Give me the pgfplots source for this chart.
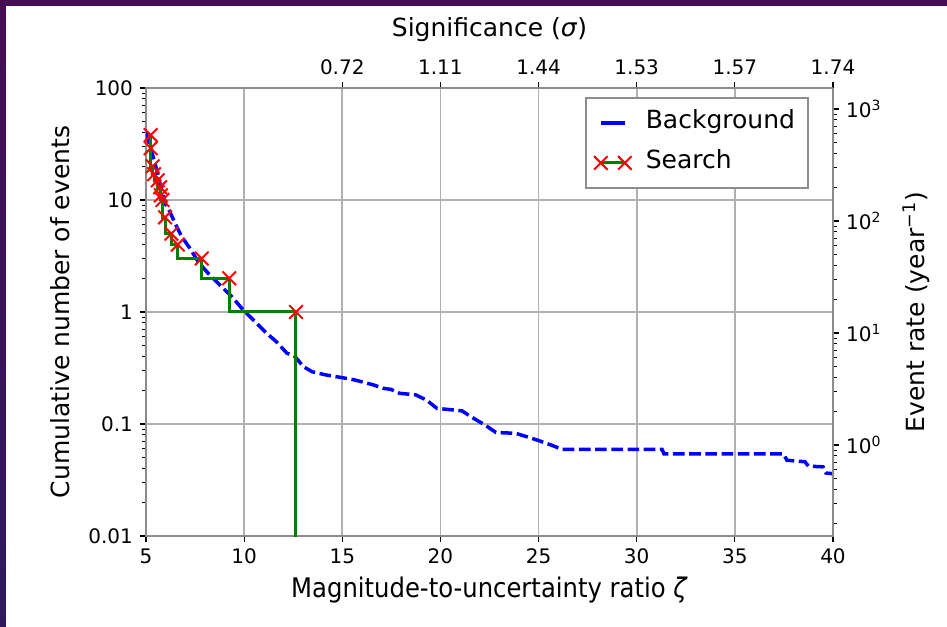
\documentclass[border=0pt]{standalone}
\usepackage{pgfplots}
\usepackage{pgfplotstable}
\pgfplotsset{compat=1.18}
\usepackage{fontspec}
\setmainfont{DejaVu Sans}
\newfontfamily\dejacond{DejaVu Sans}[FakeStretch=0.9]
\definecolor{bgpurple}{HTML}{470D53}
\definecolor{bgpurple2}{HTML}{2E1B5E}
\definecolor{mplgreen}{HTML}{008000}
\definecolor{mplblue}{HTML}{0000FF}
\definecolor{mplred}{HTML}{FF0000}
\definecolor{gridgray}{HTML}{B0B0B0}
\definecolor{spinegray}{HTML}{8C8C8C}

\pgfplotstableread{
x y
5.00 40
5.29 27
5.55 18.5
5.97 9.35
6.14 8.4
6.48 6.2
6.82 4.7
7.24 3.7
7.66 2.81
8.17 2.21
8.77 1.74
9.37 1.37
9.96 1.04
10.55 0.82
11.15 0.645
11.66 0.54
12.17 0.43
12.59 0.40
13.02 0.325
13.46 0.293
14.17 0.274
15.01 0.259
15.65 0.247
16.56 0.224
17.10 0.208
17.47 0.204
17.92 0.188
18.74 0.182
19.28 0.164
19.82 0.138
21.10 0.131
21.56 0.116
22.27 0.098
22.83 0.084
23.83 0.0826
24.36 0.0774
24.92 0.072
25.63 0.065
26.19 0.0595
31.29 0.0595
31.39 0.054
37.48 0.054
37.65 0.0475
38.57 0.046
38.75 0.042
39.49 0.0415
39.64 0.0365
40.00 0.036
}\background

\pgfplotstableread{
x y
5.24 38
5.24 29
5.34 20
5.41 17
5.60 15
5.72 13
5.76 11
5.84 10
5.97 7
6.29 5
6.62 4
7.84 3
9.24 2
12.64 1
}\searchmarks

\pgfplotstableread{
x y
5.24 38
5.24 29
5.34 20
5.41 17
5.60 15
5.72 13
5.76 11
5.84 10
5.97 7
6.29 5
6.62 4
7.84 3
9.24 2
12.64 1
12.64 0.001
}\searchline

\pgfplotsset{
  myaxis/.style={
    scale only axis, width=343.5pt, height=224pt,
    at={(0pt,0pt)}, anchor=south west,
    xmin=5, xmax=40,
    axis line style={spinegray, line width=1pt},
    tick style={black, line width=0.6pt},
    major tick length=3pt, minor tick length=1.75pt,
    tick align=outside,
    /pgf/number format/assume math mode=true,
    ticklabel style={font=\fontsize{10}{12}\selectfont},
    label style={font=\fontsize{12.5}{15}\selectfont},
  }
}

\begin{document}
\begin{tikzpicture}
\fill[white] (-73pt,-45pt) rectangle (400.5pt,268pt);
\fill[bgpurple] (-73pt,265pt) rectangle (400.5pt,268pt);
\shade[top color=bgpurple,bottom color=bgpurple2] (-73pt,-45pt) rectangle (-70pt,268pt);

% main axis
\begin{axis}[myaxis,
  ymode=log, ymin=0.01, ymax=100,
  xtick={5,10,...,40}, xticklabels={5,10,15,20,25,30,35,40},
  ytick={0.01,0.1,1,10,100}, yticklabels={0.01,0.1,1,10,100},
  minor ytick={0.02,0.03,0.04,0.05,0.06,0.07,0.08,0.09,0.2,0.3,0.4,0.5,0.6,0.7,0.8,0.9,2,3,4,5,6,7,8,9,20,30,40,50,60,70,80,90},
  xtick pos=left, ytick pos=left,
  grid=major, major grid style={gridgray, line width=0.8pt},
  xlabel={\dejacond\fontsize{13.5}{16}\selectfont Magnitude-to-uncertainty ratio \textit{ζ}},
  xlabel style={at={(axis description cs:0.5,-0.1205)}, anchor=center},
  ylabel={Cumulative number of events},
  ylabel style={at={(axis description cs:-0.125,0.5)}, anchor=center},
  legend style={at={(rel axis cs:0.965,0.98)}, anchor=north east,
    draw=gridgray!80!black, line width=1pt, fill=white,
    font=\fontsize{12.5}{15}\selectfont,
    inner xsep=4pt, inner ysep=4pt,
    nodes={inner sep=2.5pt, text height=9pt, text depth=3pt},
    row sep=3pt},
  legend cell align=left,
]
\addplot[mplblue, line width=1.75pt, dash pattern=on 5.8pt off 2.3pt, forget plot] table[x=x,y=y] {\background};
\addplot[mplgreen, line width=1.5pt, const plot mark right, forget plot] table[x=x,y=y] {\searchline};
\addplot[only marks, mark=x, mark size=4.8pt, mplred, line width=1pt, forget plot] table[x=x,y=y] {\searchmarks};

\addlegendimage{legend image code/.code={\draw[mplblue, line width=1.75pt] (0pt,0pt) -- (12pt,0pt);
  \path[draw=none, fill=none] (-2pt,0pt) -- (20pt,0pt);}}
\addlegendentry{Background}
\addlegendimage{legend image code/.code={\draw[mplgreen, line width=1.5pt] (0pt,0pt) -- (12pt,0pt);
  \draw[mplred, line width=1pt, mark=x, mark size=4.8pt, only marks] plot coordinates {(0pt,0pt) (12pt,0pt)};
  \path[draw=none, fill=none] (-2pt,0pt) -- (20pt,0pt);}}
\addlegendentry{Search}
\end{axis}

% top axis
\begin{axis}[myaxis,
  ymin=0, ymax=1, hide y axis,
  axis x line*=top,
  xtick={15,20,25,30,35,40}, xticklabels={0.72,1.11,1.44,1.53,1.57,1.74},
  xlabel={Significance (\textit{σ})},
  xlabel style={at={(axis description cs:0.5,1.1295)}, anchor=center},
]
\end{axis}

% right axis
\begin{axis}[myaxis,
  ymode=log, ymin=0.154, ymax=1540, hide x axis,
  axis y line*=right,
  ytick={1,10,100,1000},
  yticklabels={10\textsuperscript{0},10\textsuperscript{1},10\textsuperscript{2},10\textsuperscript{3}},
  minor ytick={0.2,0.3,0.4,0.5,0.6,0.7,0.8,0.9,2,3,4,5,6,7,8,9,20,30,40,50,60,70,80,90,200,300,400,500,600,700,800,900},
  ylabel={Event rate (year\textsuperscript{−1})},
  ylabel style={at={(axis description cs:1.121,0.5)}, anchor=center, rotate=0},
]
\end{axis}

\pgfresetboundingbox
\path[use as bounding box] (-73pt,-45pt) rectangle (400.5pt,268pt);
\end{tikzpicture}
\end{document}
